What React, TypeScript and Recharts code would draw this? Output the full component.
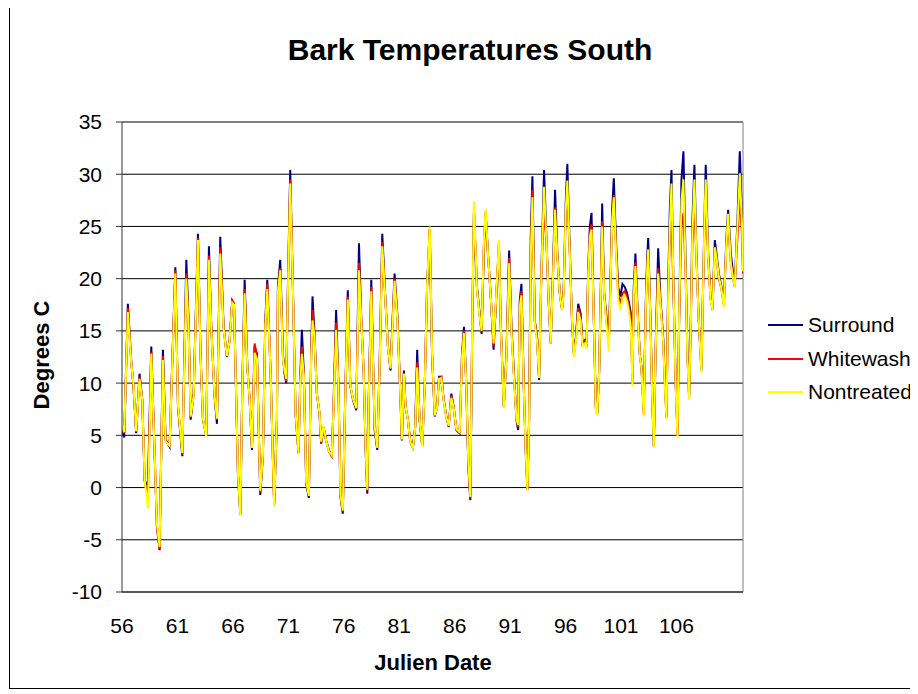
import { LineChart, Line, XAxis, YAxis, CartesianGrid, ReferenceLine } from 'recharts';

// Julien date of each reading
const days = [
  56.0, 56.2, 56.53, 56.83, 57.03, 57.28, 57.58, 57.83, 58.04, 58.34,
  58.64, 58.94, 59.15, 59.39, 59.69, 59.93, 60.29, 60.81, 61.05, 61.44,
  61.8, 62.0, 62.19, 62.46, 62.85, 63.08, 63.3, 63.6, 63.84, 64.05,
  64.35, 64.56, 64.86, 65.16, 65.46, 65.7, 65.94, 66.1, 66.31, 66.46,
  66.67, 66.85, 67.06, 67.3, 67.51, 67.72, 67.96, 68.17, 68.47, 68.71,
  68.92, 69.1, 69.4, 69.72, 69.97, 70.06, 70.27, 70.51, 70.66, 70.81,
  70.96, 71.17, 71.41, 71.65, 71.92, 72.07, 72.22, 72.4, 72.61, 72.85,
  73.06, 73.18, 73.36, 73.57, 73.81, 73.96, 74.17, 74.41, 74.65, 74.92,
  75.07, 75.31, 75.52, 75.7, 75.91, 76.15, 76.36, 76.59, 76.83, 77.13,
  77.37, 77.58, 77.79, 77.97, 78.12, 78.24, 78.48, 78.78, 79.02, 79.23,
  79.47, 79.74, 79.98, 80.22, 80.37, 80.58, 80.82, 81.03, 81.24, 81.42,
  81.57, 81.78, 81.99, 82.23, 82.44, 82.62, 82.83, 83.07, 83.3, 83.51,
  83.75, 83.96, 84.2, 84.41, 84.59, 84.8, 85.01, 85.25, 85.46, 85.7,
  85.91, 86.15, 86.45, 86.66, 86.84, 87.05, 87.23, 87.41, 87.59, 87.74,
  88.01, 88.25, 88.43, 88.64, 88.79, 89.0, 89.24, 89.51, 89.75, 89.99,
  90.16, 90.43, 90.67, 90.91, 91.12, 91.33, 91.57, 91.72, 91.87, 92.02,
  92.23, 92.41, 92.56, 92.71, 92.86, 93.01, 93.22, 93.43, 93.61, 93.82,
  94.06, 94.27, 94.48, 94.66, 94.87, 95.05, 95.26, 95.47, 95.68, 95.83,
  96.01, 96.16, 96.37, 96.58, 96.75, 96.93, 97.14, 97.35, 97.53, 97.74,
  97.89, 98.04, 98.19, 98.34, 98.55, 98.73, 98.85, 99.03, 99.18, 99.3,
  99.48, 99.69, 99.9, 100.05, 100.2, 100.35, 100.53, 100.74, 100.95, 101.13,
  101.34, 101.55, 101.73, 101.88, 102.03, 102.15, 102.3, 102.48, 102.69, 102.84,
  103.05, 103.23, 103.35, 103.45, 103.66, 103.81, 103.96, 104.11, 104.35, 104.56,
  104.8, 104.95, 105.1, 105.25, 105.4, 105.55, 105.76, 105.94, 106.09, 106.24,
  106.45, 106.63, 106.81, 106.99, 107.14, 107.29, 107.44, 107.62, 107.8, 108.01,
  108.25, 108.4, 108.55, 108.64, 108.86, 109.07, 109.25, 109.46, 109.61, 109.82,
  110.06, 110.27, 110.51, 110.66, 110.9, 111.11, 111.26, 111.5, 111.71, 111.92,
  112.0,
];

const surround = [
  5.5, 4.8, 17.6, 12.2, 9.7, 5.2, 10.9, 8.4, 0.7, 0.1,
  13.5, 3.3, -3.7, -6.0, 13.2, 4.6, 3.9, 21.1, 7.7, 3.0,
  21.8, 16.0, 6.5, 9.0, 24.3, 12.8, 6.5, 5.0, 23.1, 15.4,
  8.7, 6.1, 24.0, 15.4, 12.5, 14.1, 17.9, 17.6, 8.0, 1.1,
  -2.6, 9.7, 19.9, 11.6, 8.4, 3.6, 13.5, 12.8, -0.7, 3.3,
  16.0, 19.9, 10.9, -1.6, 6.5, 19.2, 21.8, 12.8, 10.9, 10.0,
  19.2, 30.4, 19.2, 7.1, 3.3, 10.3, 15.1, 10.9, 0.4, -1.0,
  12.8, 18.3, 14.7, 9.0, 7.1, 4.2, 5.8, 4.5, 3.6, 3.0,
  7.7, 17.0, 9.7, -0.9, -2.5, 9.7, 18.9, 9.7, 8.4, 7.4,
  23.4, 16.0, 11.2, 3.6, -0.6, 8.0, 19.9, 5.5, 3.6, 11.6,
  24.3, 18.3, 13.5, 11.2, 15.4, 20.5, 16.7, 10.9, 4.5, 11.2,
  7.7, 6.5, 4.5, 3.8, 5.8, 13.2, 6.5, 4.0, 9.7, 19.2,
  24.7, 12.8, 6.8, 7.7, 10.6, 10.6, 8.4, 6.8, 5.8, 9.0,
  7.7, 5.5, 5.2, 12.8, 15.4, 9.7, 2.0, -1.2, 16.0, 26.3,
  19.2, 16.7, 14.7, 23.1, 26.2, 22.4, 18.6, 13.2, 18.3, 23.1,
  15.4, 7.7, 12.8, 22.7, 15.4, 11.2, 6.5, 5.5, 17.9, 19.5,
  9.7, 3.3, -0.2, 6.5, 24.0, 29.8, 16.0, 14.4, 10.3, 20.8,
  30.4, 24.0, 17.6, 13.8, 20.8, 28.5, 22.4, 18.6, 17.0, 18.9,
  27.2, 31.0, 23.1, 16.0, 12.8, 14.4, 17.6, 16.7, 13.8, 14.1,
  13.5, 20.8, 25.0, 26.3, 16.0, 7.7, 7.1, 11.2, 19.2, 27.2,
  18.6, 16.4, 14.1, 19.9, 26.6, 29.6, 24.0, 19.2, 18.3, 19.5,
  19.2, 18.6, 17.6, 16.7, 10.5, 19.2, 22.4, 17.3, 12.8, 11.6,
  7.4, 17.6, 21.8, 23.9, 16.0, 8.7, 3.9, 12.8, 22.9, 17.9,
  14.4, 10.3, 6.8, 19.2, 26.6, 30.4, 17.6, 9.7, 5.2, 16.0,
  29.5, 32.2, 22.4, 12.8, 8.8, 16.0, 25.6, 30.9, 22.4, 16.0,
  11.2, 19.2, 26.9, 30.9, 22.4, 18.3, 17.0, 23.7, 22.4, 20.5,
  19.2, 17.6, 24.0, 26.6, 22.4, 20.5, 19.5, 25.6, 32.2, 25.6,
  20.9,
];

const whitewash = [
  5.8, 5.2, 17.2, 12.0, 9.8, 5.3, 10.6, 8.4, 0.6, -0.8,
  13.0, 3.3, -3.8, -5.9, 12.6, 4.5, 4.0, 20.8, 7.8, 3.2,
  20.5, 15.8, 6.7, 9.0, 23.9, 12.8, 6.5, 5.0, 22.2, 15.4,
  8.8, 6.5, 23.0, 15.3, 12.6, 14.0, 17.9, 17.6, 8.1, 1.2,
  -2.4, 9.6, 19.0, 11.6, 8.4, 3.8, 13.8, 12.5, -0.5, 3.0,
  15.5, 19.5, 11.0, -1.7, 6.5, 19.0, 21.0, 12.5, 11.0, 10.2,
  19.0, 29.5, 19.2, 7.1, 3.3, 10.1, 13.5, 10.8, 0.5, -0.8,
  12.6, 17.0, 14.5, 9.0, 7.1, 4.3, 5.8, 4.5, 3.5, 3.0,
  7.6, 15.8, 9.6, -0.8, -2.3, 9.5, 18.3, 9.8, 8.5, 7.6,
  21.5, 16.0, 11.3, 3.7, -0.3, 7.9, 19.2, 5.8, 3.8, 11.5,
  23.5, 18.2, 13.5, 11.4, 15.0, 20.0, 16.4, 10.9, 4.6, 11.0,
  7.8, 6.5, 4.4, 3.8, 5.8, 12.0, 6.5, 4.0, 9.6, 19.2,
  24.8, 12.9, 6.9, 7.6, 10.5, 10.6, 8.4, 6.7, 5.9, 8.8,
  7.7, 5.6, 5.3, 12.6, 15.0, 9.8, 2.2, -1.0, 16.2, 26.8,
  19.0, 16.5, 14.9, 23.5, 26.4, 22.4, 18.5, 13.5, 18.3, 23.5,
  15.4, 7.8, 12.6, 22.0, 15.2, 11.0, 6.8, 5.8, 17.6, 18.8,
  9.7, 3.5, -0.2, 6.3, 22.5, 28.5, 16.0, 14.2, 10.5, 20.5,
  26.5, 23.8, 17.8, 14.0, 20.4, 26.8, 22.2, 18.7, 17.1, 18.8,
  26.0, 28.0, 22.8, 16.0, 12.8, 14.2, 17.2, 16.4, 13.7, 14.0,
  13.5, 20.5, 24.4, 25.2, 16.0, 7.5, 7.0, 11.0, 19.0, 25.5,
  18.6, 15.8, 13.6, 19.5, 25.8, 28.0, 23.5, 18.5, 17.6, 18.6,
  18.8, 18.2, 17.2, 16.0, 10.0, 18.8, 21.6, 17.2, 12.8, 11.5,
  7.0, 17.3, 21.0, 22.5, 16.0, 8.7, 4.0, 12.8, 21.0, 17.8,
  14.2, 10.0, 6.7, 18.5, 24.0, 26.0, 17.6, 9.5, 5.0, 16.0,
  25.0, 26.3, 21.0, 12.5, 8.6, 15.5, 23.5, 27.0, 22.0, 16.0,
  11.5, 19.0, 26.0, 27.5, 22.0, 18.0, 17.3, 23.0, 22.0, 20.0,
  19.0, 17.5, 23.6, 25.4, 21.5, 20.0, 19.2, 24.0, 28.0, 24.0,
  20.5,
];

const nontreated = [
  6.0, 5.3, 16.8, 12.0, 9.9, 5.4, 10.4, 8.4, 0.8, -2.0,
  12.8, 3.4, -3.5, -5.7, 12.2, 4.4, 4.0, 20.5, 7.9, 3.3,
  20.0, 15.5, 6.8, 8.8, 23.7, 12.8, 6.6, 4.9, 21.8, 15.3,
  8.8, 6.6, 22.4, 15.2, 12.6, 14.0, 17.7, 17.5, 8.2, 1.3,
  -2.7, 9.5, 18.6, 11.5, 8.4, 3.8, 12.9, 12.3, -0.3, 3.2,
  15.4, 19.0, 11.0, -1.8, 6.5, 18.8, 20.8, 12.3, 11.2, 10.4,
  18.8, 29.1, 19.2, 7.2, 3.3, 10.0, 12.8, 10.7, 0.6, -0.8,
  12.5, 16.0, 14.4, 9.0, 7.2, 4.4, 5.9, 4.5, 3.5, 3.1,
  7.5, 15.1, 9.6, -0.7, -2.2, 9.4, 18.0, 9.8, 8.5, 7.6,
  20.8, 15.8, 11.3, 3.8, -0.2, 7.8, 18.8, 5.9, 3.8, 11.4,
  23.1, 18.2, 13.4, 11.4, 14.8, 19.8, 16.3, 10.8, 4.6, 10.9,
  7.8, 6.5, 4.4, 3.8, 5.7, 11.5, 6.6, 3.9, 9.5, 19.3,
  25.0, 13.0, 6.9, 7.6, 10.4, 10.5, 8.3, 6.7, 5.9, 8.6,
  7.6, 5.6, 5.3, 12.4, 14.8, 9.8, 2.4, -0.9, 16.3, 27.4,
  19.0, 16.4, 15.0, 23.8, 26.7, 22.4, 18.5, 13.8, 18.4, 23.7,
  15.4, 7.6, 12.5, 21.5, 15.0, 10.8, 6.6, 6.0, 17.3, 18.4,
  9.6, 3.4, -0.3, 6.2, 22.0, 27.8, 15.8, 14.0, 10.5, 20.5,
  28.8, 23.9, 17.8, 13.8, 20.3, 26.6, 22.2, 18.6, 17.0, 18.6,
  26.5, 29.4, 22.6, 16.2, 12.5, 14.0, 16.8, 16.0, 13.6, 13.8,
  13.3, 20.3, 24.0, 24.7, 16.0, 7.3, 6.9, 11.0, 19.0, 25.0,
  18.6, 15.6, 13.0, 19.3, 25.5, 27.8, 23.2, 18.0, 17.0, 18.2,
  18.4, 17.8, 16.8, 15.4, 9.7, 18.5, 21.2, 17.0, 12.7, 11.5,
  6.8, 17.2, 20.8, 22.8, 15.8, 8.6, 3.8, 12.8, 20.5, 17.5,
  14.0, 9.8, 6.5, 18.0, 25.0, 29.1, 17.8, 9.4, 4.8, 16.2,
  27.5, 29.5, 21.5, 12.3, 8.4, 15.4, 24.5, 29.5, 22.0, 16.0,
  11.0, 19.0, 26.5, 29.5, 22.0, 18.0, 17.0, 23.0, 22.0, 20.2,
  19.0, 17.3, 23.5, 26.2, 21.5, 20.0, 19.2, 25.0, 30.1, 25.0,
  20.7,
];

const xTicks = [56, 61, 66, 71, 76, 81, 86, 91, 96, 101, 106];
const yTicks = [-10, -5, 0, 5, 10, 15, 20, 25, 30, 35];

const seriesKeys = ['surround', 'whitewash', 'nontreated'];
const seriesNames = ['Surround', 'Whitewash', 'Nontreated'];
const seriesColors = ['#000080', '#FF0000', '#FFFF00'];

const data = days.map((day, i) => ({
  day,
  surround: surround[i],
  whitewash: whitewash[i],
  nontreated: nontreated[i],
}));

const font = '"Liberation Sans", Arial, sans-serif';
const tickStyle = { fontSize: 21, fill: '#000', fontFamily: font };

export default function App() {
  return (
    <div
      style={{
        position: 'relative',
        left: 1,
        top: -1,
        width: 907,
        height: 680,
        border: '1px solid #000',
        borderRight: 'none',
        background: '#fff',
        fontFamily: font,
        color: '#000',
      }}
    >
      <div
        style={{
          position: 'absolute',
          left: 460,
          top: 42,
          transform: 'translate(-50%, -50%)',
          fontSize: 30,
          fontWeight: 'bold',
          lineHeight: 1,
          whiteSpace: 'nowrap',
        }}
      >
        Bark Temperatures South
      </div>

      <LineChart width={900} height={660} data={data} margin={{ top: 114, right: 167, bottom: 36, left: 0 }}>
        <CartesianGrid horizontal vertical={false} stroke="#000" strokeWidth={1} />
        <XAxis
          dataKey="day"
          type="number"
          domain={[56, 112]}
          ticks={xTicks}
          interval={0}
          allowDataOverflow
          tickLine={false}
          tickSize={0}
          tickMargin={26}
          height={40}
          axisLine={{ stroke: '#333' }}
          tick={tickStyle}
        />
        <YAxis
          type="number"
          domain={[-10, 35]}
          ticks={yTicks}
          interval={0}
          width={112}
          tickSize={6}
          tickMargin={14}
          tickLine={{ stroke: '#333' }}
          axisLine={{ stroke: '#333' }}
          tick={tickStyle}
        />
        <ReferenceLine x={112} stroke="#808080" />
        {seriesKeys.map((key, i) => (
          <Line
            key={key}
            type="linear"
            dataKey={key}
            name={seriesNames[i]}
            stroke={seriesColors[i]}
            strokeWidth={2}
            dot={false}
            isAnimationActive={false}
          />
        ))}
      </LineChart>

      <div
        style={{
          position: 'absolute',
          left: 32,
          top: 347,
          transform: 'translate(-50%, -50%) rotate(-90deg)',
          fontSize: 22,
          fontWeight: 'bold',
          lineHeight: 1,
          whiteSpace: 'nowrap',
        }}
      >
        Degrees C
      </div>
      <div
        style={{
          position: 'absolute',
          left: 423,
          top: 655,
          transform: 'translate(-50%, -50%)',
          fontSize: 22,
          fontWeight: 'bold',
          lineHeight: 1,
          whiteSpace: 'nowrap',
        }}
      >
        Julien Date
      </div>

      {seriesNames.map((name, i) => (
        <div
          key={name}
          style={{
            position: 'absolute',
            left: 758,
            top: 317 + i * 33.5 - 15,
            height: 30,
            display: 'flex',
            alignItems: 'center',
            fontSize: 21,
            whiteSpace: 'nowrap',
          }}
        >
          <span style={{ display: 'inline-block', width: 35, height: 2, background: seriesColors[i], marginRight: 5 }} />
          {name}
        </div>
      ))}
    </div>
  );
}
